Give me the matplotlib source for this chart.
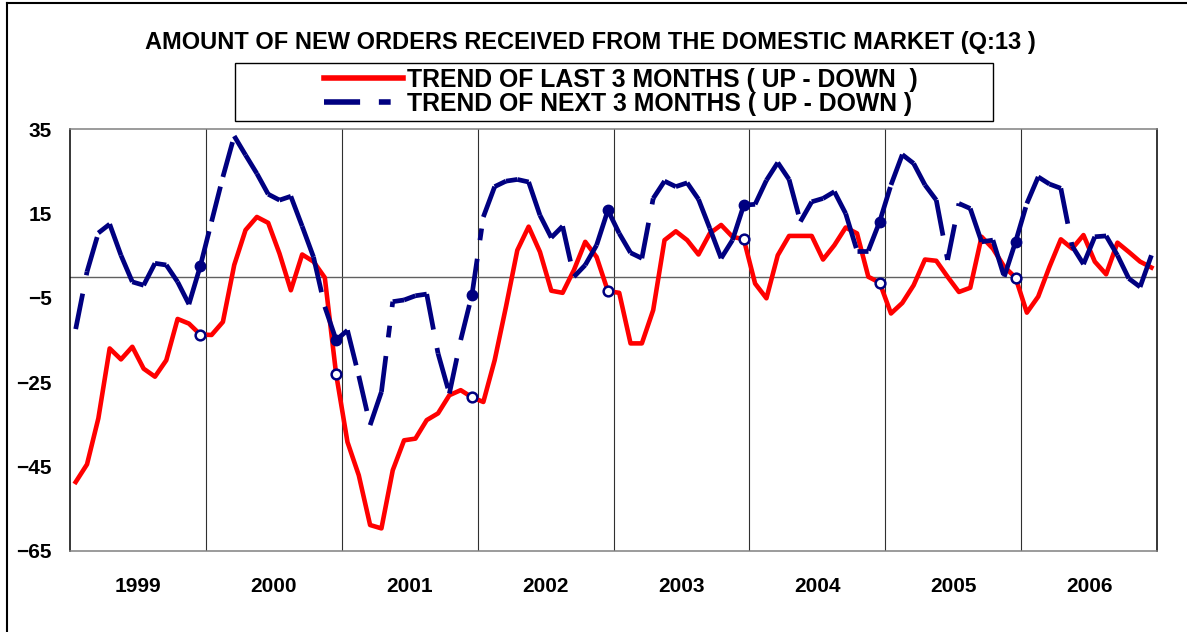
import numpy as np
import matplotlib
matplotlib.use('Agg')
import matplotlib.pyplot as plt
from matplotlib.collections import LineCollection
from matplotlib.lines import Line2D
from matplotlib.patches import Rectangle

plt.rcParams['font.family'] = ['Liberation Sans', 'DejaVu Sans']
plt.rcParams['font.weight'] = 'bold'
plt.rcParams['lines.scale_dashes'] = False

# monthly balances, Jan 1999 - Dec 2006
years = ['1999', '2000', '2001', '2002', '2003', '2004', '2005', '2006']
last_3m = [-48.7, -44.5, -33.6, -17.0, -19.6, -16.6, -21.8, -23.7, -19.8, -10.0, -11.1, -13.7,
           -13.8, -10.7, 2.8, 11.1, 14.2, 12.8, 5.5, -3.2, 5.3, 3.6, -0.2, -23.1,
           -39.2, -47.1, -58.9, -59.7, -45.9, -38.8, -38.4, -34.0, -32.4, -28.1, -26.9, -28.6,
           -29.7, -19.8, -7.1, 6.3, 11.9, 5.9, -3.3, -3.8, 1.6, 8.3, 4.7, -3.4,
           -3.8, -15.8, -15.8, -7.9, 8.7, 10.8, 8.7, 5.3, 10.3, 12.3, 9.5, 8.9,
           -1.6, -5.1, 5.1, 9.7, 9.7, 9.7, 4.1, 7.5, 11.7, 10.3, 0.0, -1.4,
           -8.7, -6.2, -2.0, 4.1, 3.8, 0.0, -3.6, -2.6, 9.5, 6.7, 2.4, -0.2,
           -8.5, -4.7, 2.4, 8.9, 6.7, 9.9, 3.6, 0.6, 8.1, 5.9, 3.6, 2.2]
next_3m = [-12.4, 1.2, 10.4, 12.5, 5.1, -1.2, -2.0, 3.2, 2.8, -1.2, -6.5, 2.5,
           13.1, 23.7, 33.4, 28.9, 24.5, 19.6, 18.2, 19.1, 12.0, 4.7, -7.1, -15.0,
           -12.7, -23.5, -35.2, -27.3, -5.9, -5.5, -4.5, -4.1, -18.2, -27.7, -15.0, -4.2,
           14.2, 21.4, 22.7, 23.1, 22.5, 14.6, 9.3, 12.0, 0.0, 2.8, 7.5, 15.8,
           10.3, 5.7, 4.4, 18.6, 22.7, 21.4, 22.3, 18.4, 11.5, 4.4, 8.7, 17.0,
           17.2, 22.9, 27.1, 23.1, 13.1, 17.8, 18.6, 20.2, 15.0, 6.2, 6.2, 13.1,
           21.8, 29.0, 26.9, 21.8, 18.2, 4.0, 17.4, 16.2, 8.3, 8.7, 0.0, 8.3,
           17.4, 23.7, 22.0, 21.0, 7.3, 3.0, 9.5, 9.7, 5.1, -0.4, -2.4, 5.1]

title = 'AMOUNT OF NEW ORDERS RECEIVED FROM THE DOMESTIC MARKET (Q:13 )'
labels = ['TREND OF LAST 3 MONTHS ( UP - DOWN  )', 'TREND OF NEXT 3 MONTHS ( UP - DOWN )']

navy = '#000080'
n = len(last_3m)
x = np.arange(n) + 0.5
last = np.array(last_3m)
nxt = np.array(next_3m)

fig = plt.figure(figsize=(11.87, 6.32), dpi=100)
ax = fig.add_axes([0.059, 0.1286, 0.9158, 0.6668])

# excel style dash restarts on every segment -> one path per segment
dash = (0, (26, 13.5, 8.5, 13.5))
segs = [[(x[i], nxt[i]), (x[i + 1], nxt[i + 1])] for i in range(n - 1)]
lc = LineCollection(segs, colors=navy, linewidths=3.4, linestyles=[dash],
                    capstyle='butt', zorder=4)
ax.add_collection(lc)
ax.plot(x, last, color='red', lw=3.3, zorder=3)

dec = np.arange(11, n - 1, 12)
ax.plot(x[dec], last[dec], 'o', ms=7, mfc='white', mec=navy, mew=1.8, zorder=5)
ax.plot(x[dec], nxt[dec], 'o', ms=7.5, color=navy, zorder=5)

for b in range(12, n, 12):
    ax.axvline(b, color='#303030', lw=0.8, zorder=1)
ax.axhline(0, color='#606060', lw=1, zorder=1)

ax.set_xlim(0, n)
ax.set_ylim(-65, 35)
ax.set_yticks(np.arange(-65, 36, 20))
ax.set_xticks(np.arange(6, n, 12), years)
ax.tick_params(length=0, labelsize=15)
ax.tick_params(axis='y', pad=13)
ax.tick_params(axis='x', pad=19)
for s in ['top', 'bottom']:
    ax.spines[s].set_color('#808080')
for s in ['left', 'right']:
    ax.spines[s].set_color('black')
for s in ax.spines.values():
    s.set_linewidth(1.1)

fig.text(0.497, 0.932, title, ha='center', va='center', fontsize=17, weight='bold')

handles = [Line2D([], [], color='red', lw=4),
           Line2D([], [], color=navy, lw=4, linestyle=dash, dash_capstyle='butt')]
fig.legend(handles, labels, loc='center', bbox_to_anchor=(0.5228, 0.8552),
           frameon=False, handlelength=3.2, handletextpad=0.15, labelspacing=0.0,
           borderpad=0, prop={'weight': 'bold', 'size': 17.8})
fig.add_artist(Rectangle((0.198, 0.8085), 0.6386, 0.0918, transform=fig.transFigure,
                         fill=False, ec='black', lw=1))

# outer frame (top and left only visible)
fig.add_artist(Line2D([7 / 1187, 1], [1 - 3 / 632] * 2, transform=fig.transFigure, color='black', lw=1.5))
fig.add_artist(Line2D([7 / 1187] * 2, [0, 1 - 3 / 632], transform=fig.transFigure, color='black', lw=1.5))

fig.savefig('out.png', dpi=100)
